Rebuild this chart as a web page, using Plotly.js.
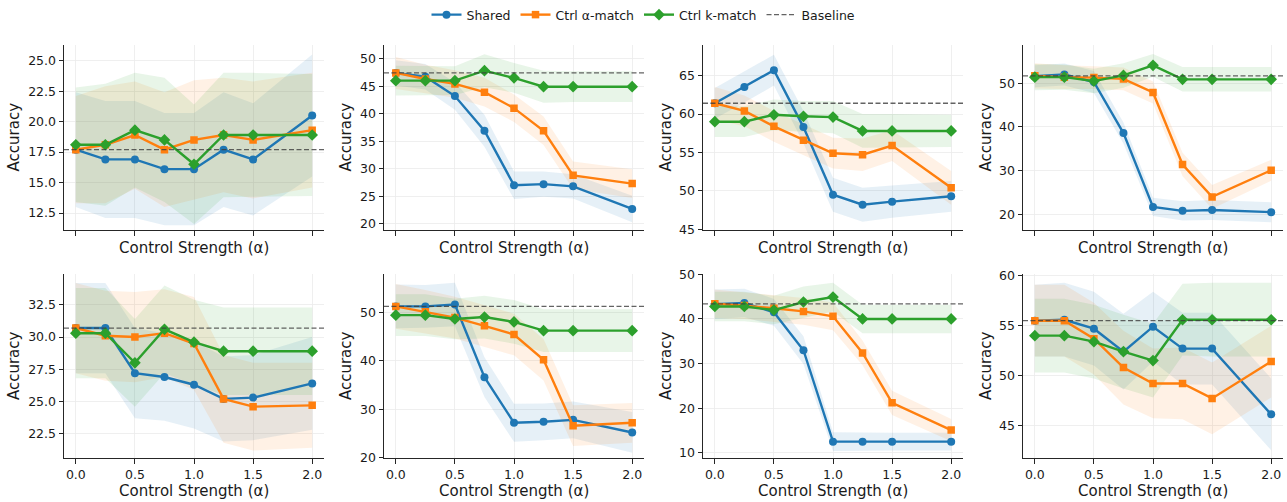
<!DOCTYPE html>
<html>
<head>
<meta charset="utf-8">
<script src="https://cdn.plot.ly/plotly-3.0.1.min.js"></script>
<style>html,body{margin:0;padding:0;background:#fff;}#chart{width:1287px;height:502px;}</style>
</head>
<body>
<div id="chart"></div>
<script>
// ---------- data ----------
const alphas = [0, 0.25, 0.5, 0.75, 1.0, 1.25, 1.5, 2.0];
const xTickVals = [0, 0.5, 1.0, 1.5, 2.0];
const seriesNames = ["Shared", "Ctrl α-match", "Ctrl k-match", "Baseline"];

// Panel 1
const p1Shared = [17.7, 16.9, 16.9, 16.1, 16.1, 17.7, 16.9, 20.5];
const p1SharedErr = [4.7, 4.8, 4.8, 4.6, 4.6, 4.7, 4.6, 5.0];
const p1Alpha = [17.7, 18.1, 18.9, 17.7, 18.5, 18.9, 18.5, 19.3];
const p1AlphaErr = [4.4, 4.8, 4.4, 4.7, 4.9, 4.7, 4.8, 4.7];
const p1K = [18.1, 18.1, 19.3, 18.5, 16.5, 18.9, 18.9, 18.9];
const p1KErr = [4.7, 5.0, 4.7, 5.1, 4.9, 5.1, 5.1, 5.0];
const p1Base = 17.7;

// Panel 2
const p2Shared = [47.4, 46.7, 43.2, 36.9, 27.0, 27.2, 26.8, 22.7];
const p2SharedErr = [2.3, 2.3, 2.5, 2.9, 2.5, 2.3, 2.2, 2.4];
const p2Alpha = [47.4, 46.3, 45.4, 43.9, 41.0, 36.9, 28.8, 27.3];
const p2AlphaErr = [2.9, 2.6, 2.5, 2.6, 2.5, 2.6, 2.5, 2.6];
const p2K = [46.0, 46.0, 46.0, 47.8, 46.5, 44.9, 44.9, 44.9];
const p2KErr = [2.7, 2.6, 2.6, 3.0, 2.7, 2.9, 2.8, 2.8];
const p2Base = 47.4;

// Panel 3
const p3Shared = [61.4, 63.5, 65.7, 58.3, 49.5, 48.2, 48.6, 49.3];
const p3SharedErr = [2.0, 2.0, 2.0, 2.1, 2.2, 2.2, 2.1, 2.0];
const p3Alpha = [61.4, 60.4, 58.4, 56.6, 54.9, 54.7, 55.9, 50.4];
const p3AlphaErr = [2.1, 2.0, 2.0, 2.0, 2.0, 2.1, 2.0, 2.2];
const p3K = [59.0, 59.0, 59.9, 59.7, 59.6, 57.8, 57.8, 57.8];
const p3KErr = [2.0, 2.0, 2.0, 2.0, 2.1, 2.2, 2.2, 2.1];
const p3Base = 61.4;

// Panel 4
const p4Shared = [51.6, 52.0, 50.3, 38.6, 21.7, 20.8, 21.0, 20.5];
const p4SharedErr = [2.5, 2.5, 2.5, 2.4, 2.1, 2.2, 2.3, 2.3];
const p4Alpha = [51.7, 51.4, 51.3, 51.0, 47.9, 31.4, 24.0, 30.1];
const p4AlphaErr = [2.9, 2.7, 2.6, 2.6, 2.5, 2.7, 2.7, 2.4];
const p4K = [51.4, 51.4, 50.5, 51.8, 54.1, 50.9, 50.9, 50.9];
const p4KErr = [3.0, 2.9, 2.8, 2.8, 2.6, 2.8, 2.8, 2.8];
const p4Base = 51.7;

// Panel 5
const p5Shared = [30.7, 30.7, 27.2, 26.9, 26.3, 25.2, 25.3, 26.4];
const p5SharedErr = [3.5, 3.5, 3.5, 3.4, 3.4, 3.3, 3.3, 3.6];
const p5Alpha = [30.7, 30.1, 30.0, 30.3, 29.5, 25.2, 24.6, 24.7];
const p5AlphaErr = [3.5, 3.5, 3.5, 3.4, 3.6, 3.4, 3.4, 3.3];
const p5K = [30.3, 30.3, 28.0, 30.6, 29.6, 28.9, 28.9, 28.9];
const p5KErr = [3.5, 3.5, 3.4, 3.4, 3.3, 3.4, 3.4, 3.4];
const p5Base = 30.7;

// Panel 6
const p6Shared = [51.2, 51.2, 51.6, 36.6, 27.2, 27.4, 27.8, 25.2];
const p6SharedErr = [4.5, 4.4, 4.5, 4.1, 3.9, 3.8, 3.8, 4.2];
const p6Alpha = [51.2, 50.1, 48.9, 47.2, 45.4, 40.2, 26.6, 27.2];
const p6AlphaErr = [4.6, 4.5, 4.3, 4.3, 4.3, 4.3, 4.2, 4.1];
const p6K = [49.4, 49.4, 48.6, 49.0, 48.0, 46.2, 46.2, 46.2];
const p6KErr = [4.3, 4.3, 4.2, 4.4, 4.5, 4.4, 4.4, 4.4];
const p6Base = 51.2;

// Panel 7
const p7Shared = [43.3, 43.6, 41.5, 33.0, 12.5, 12.5, 12.5, 12.5];
const p7SharedErr = [3.3, 3.2, 3.0, 3.1, 2.1, 2.0, 2.0, 2.0];
const p7Alpha = [43.4, 43.0, 42.4, 41.7, 40.6, 32.4, 21.2, 15.1];
const p7AlphaErr = [3.2, 3.0, 3.0, 3.0, 3.1, 2.8, 2.7, 2.5];
const p7K = [42.8, 42.8, 42.0, 43.8, 44.9, 40.0, 40.0, 40.0];
const p7KErr = [3.3, 3.3, 3.2, 3.5, 3.2, 3.2, 3.2, 3.2];
const p7Base = 43.4;

// Panel 8
const p8Shared = [55.5, 55.6, 54.7, 52.4, 54.9, 52.7, 52.7, 46.1];
const p8SharedErr = [3.6, 3.7, 3.7, 3.8, 3.5, 3.6, 3.6, 3.6];
const p8Alpha = [55.5, 55.5, 53.7, 50.8, 49.2, 49.2, 47.7, 51.4];
const p8AlphaErr = [3.6, 3.6, 3.6, 3.7, 3.5, 3.6, 3.6, 3.6];
const p8K = [54.0, 54.0, 53.4, 52.4, 51.5, 55.6, 55.6, 55.6];
const p8KErr = [3.7, 3.7, 3.7, 3.7, 3.7, 3.6, 3.7, 3.7];
const p8Base = 55.5;

// ---------- assembly ----------
const panels = [
  {s: p1Shared, se: p1SharedErr, a: p1Alpha, ae: p1AlphaErr, k: p1K, ke: p1KErr, b: p1Base},
  {s: p2Shared, se: p2SharedErr, a: p2Alpha, ae: p2AlphaErr, k: p2K, ke: p2KErr, b: p2Base},
  {s: p3Shared, se: p3SharedErr, a: p3Alpha, ae: p3AlphaErr, k: p3K, ke: p3KErr, b: p3Base},
  {s: p4Shared, se: p4SharedErr, a: p4Alpha, ae: p4AlphaErr, k: p4K, ke: p4KErr, b: p4Base},
  {s: p5Shared, se: p5SharedErr, a: p5Alpha, ae: p5AlphaErr, k: p5K, ke: p5KErr, b: p5Base},
  {s: p6Shared, se: p6SharedErr, a: p6Alpha, ae: p6AlphaErr, k: p6K, ke: p6KErr, b: p6Base},
  {s: p7Shared, se: p7SharedErr, a: p7Alpha, ae: p7AlphaErr, k: p7K, ke: p7KErr, b: p7Base},
  {s: p8Shared, se: p8SharedErr, a: p8Alpha, ae: p8AlphaErr, k: p8K, ke: p8KErr, b: p8Base}
];

const W = 1287, H = 502;
const colPx = [[64, 324], [384, 644], [703, 963], [1023, 1283]];
const rowPx = [[43, 229], [273, 458]];
const yRanges = [[11.1, 26.3], [18.86, 52.5], [44.9, 69.0], [16.4, 58.8],
                 [20.6, 34.9], [19.9, 57.9], [8.8, 50.1], [41.7, 60.2]];
const yDtick = [2.5, 5, 5, 10, 2.5, 10, 10, 5];
const yFmt = [".1f", "d", "d", "d", ".1f", "d", "d", "d"];
const yTitleX = [14, 346, 666, 986];

const colors = ["#1f77b4", "#ff7f0e", "#2ca02c"];
const fills = ["rgba(31,119,180,0.11)", "rgba(255,127,14,0.11)", "rgba(44,160,44,0.11)"];
const symbols = ["circle", "square", "diamond"];
const msizes = [8, 7.5, 9];
const FONT = "DejaVu Sans, sans-serif";
const TXT = "#1a1a1a";
const BASE_LINE = {color: "rgba(60,60,60,0.8)", width: 1.3, dash: "5px,2.5px"};

const traces = [];
const layout = {
  width: W, height: H,
  margin: {l: 0, r: 0, t: 0, b: 0},
  paper_bgcolor: "#ffffff", plot_bgcolor: "#ffffff",
  font: {family: FONT, size: 12.5, color: TXT},
  showlegend: true,
  legend: {orientation: "h", x: 0.5, xanchor: "center", y: 1.005, yanchor: "top",
           font: {family: FONT, size: 12.5, color: TXT}, bgcolor: "rgba(0,0,0,0)",
           itemwidth: 30, tracegroupgap: 0},
  shapes: [], annotations: []
};

panels.forEach((p, i) => {
  const row = Math.floor(i / 4), col = i % 4;
  const n = i + 1;
  const xa = n === 1 ? "x" : "x" + n, ya = n === 1 ? "y" : "y" + n;
  const xk = n === 1 ? "xaxis" : "xaxis" + n, yk = n === 1 ? "yaxis" : "yaxis" + n;
  const means = [p.s, p.a, p.k], errs = [p.se, p.ae, p.ke];

  // bands
  means.forEach((m, j) => {
    const upper = m.map((v, q) => v + errs[j][q]);
    const lower = m.map((v, q) => v - errs[j][q]);
    traces.push({
      x: alphas.concat(alphas.slice().reverse()),
      y: upper.concat(lower.slice().reverse()),
      xaxis: xa, yaxis: ya, type: "scatter", mode: "lines",
      fill: "toself", fillcolor: fills[j], line: {width: 0, color: "rgba(0,0,0,0)"},
      hoverinfo: "skip", showlegend: false
    });
  });
  // lines
  means.forEach((m, j) => {
    traces.push({
      x: alphas, y: m, xaxis: xa, yaxis: ya, type: "scatter", mode: "lines+markers",
      name: seriesNames[j], legendgroup: seriesNames[j], showlegend: i === 0,
      line: {color: colors[j], width: 2.4},
      marker: {symbol: symbols[j], size: msizes[j], color: colors[j], line: {width: 0}}
    });
  });
  // baseline
  layout.shapes.push({
    type: "line", xref: xa + " domain", yref: ya, x0: 0, x1: 1, y0: p.b, y1: p.b,
    line: BASE_LINE, layer: "above"
  });

  const xd = [colPx[col][0] / W, colPx[col][1] / W];
  const yd = [(H - rowPx[row][1]) / H, (H - rowPx[row][0]) / H];
  layout[xk] = {
    domain: xd, anchor: ya, range: [-0.1, 2.1],
    tickvals: xTickVals, tickformat: ".1f", showticklabels: row === 1,
    ticks: "outside", ticklen: 4.5, tickwidth: 1, tickcolor: "#262626",
    showline: true, linecolor: "#262626", linewidth: 1, mirror: false,
    showgrid: true, gridcolor: "#ebebeb", gridwidth: 0.8, zeroline: false,
    tickfont: {family: FONT, size: 12.5, color: TXT}
  };
  layout[yk] = {
    domain: yd, anchor: xa, range: yRanges[i],
    dtick: yDtick[i], tick0: 0, tickformat: yFmt[i],
    ticks: "outside", ticklen: 4.5, tickwidth: 1, tickcolor: "#262626",
    showline: true, linecolor: "#262626", linewidth: 1, mirror: false,
    showgrid: true, gridcolor: "#ebebeb", gridwidth: 0.8, zeroline: false,
    tickfont: {family: FONT, size: 12.5, color: TXT}
  };
  // axis titles
  layout.annotations.push({
    text: "Control Strength (α)", xref: "paper", yref: "paper",
    x: (colPx[col][0] + colPx[col][1]) / 2 / W,
    y: (H - (row === 0 ? 246.5 : 490.5)) / H,
    xanchor: "center", yanchor: "middle", showarrow: false,
    font: {family: FONT, size: 15, color: TXT}
  });
  layout.annotations.push({
    text: "Accuracy", xref: "paper", yref: "paper", textangle: -90,
    x: yTitleX[col] / W, y: (H - (rowPx[row][0] + rowPx[row][1]) / 2) / H,
    xanchor: "center", yanchor: "middle", showarrow: false,
    font: {family: FONT, size: 15, color: TXT}
  });
});

// legend entry for baseline
traces.push({
  x: [null], y: [null], type: "scatter", mode: "lines", name: seriesNames[3],
  line: BASE_LINE, showlegend: true
});

Plotly.newPlot("chart", traces, layout, {displayModeBar: false, staticPlot: true});
</script>
</body>
</html>
